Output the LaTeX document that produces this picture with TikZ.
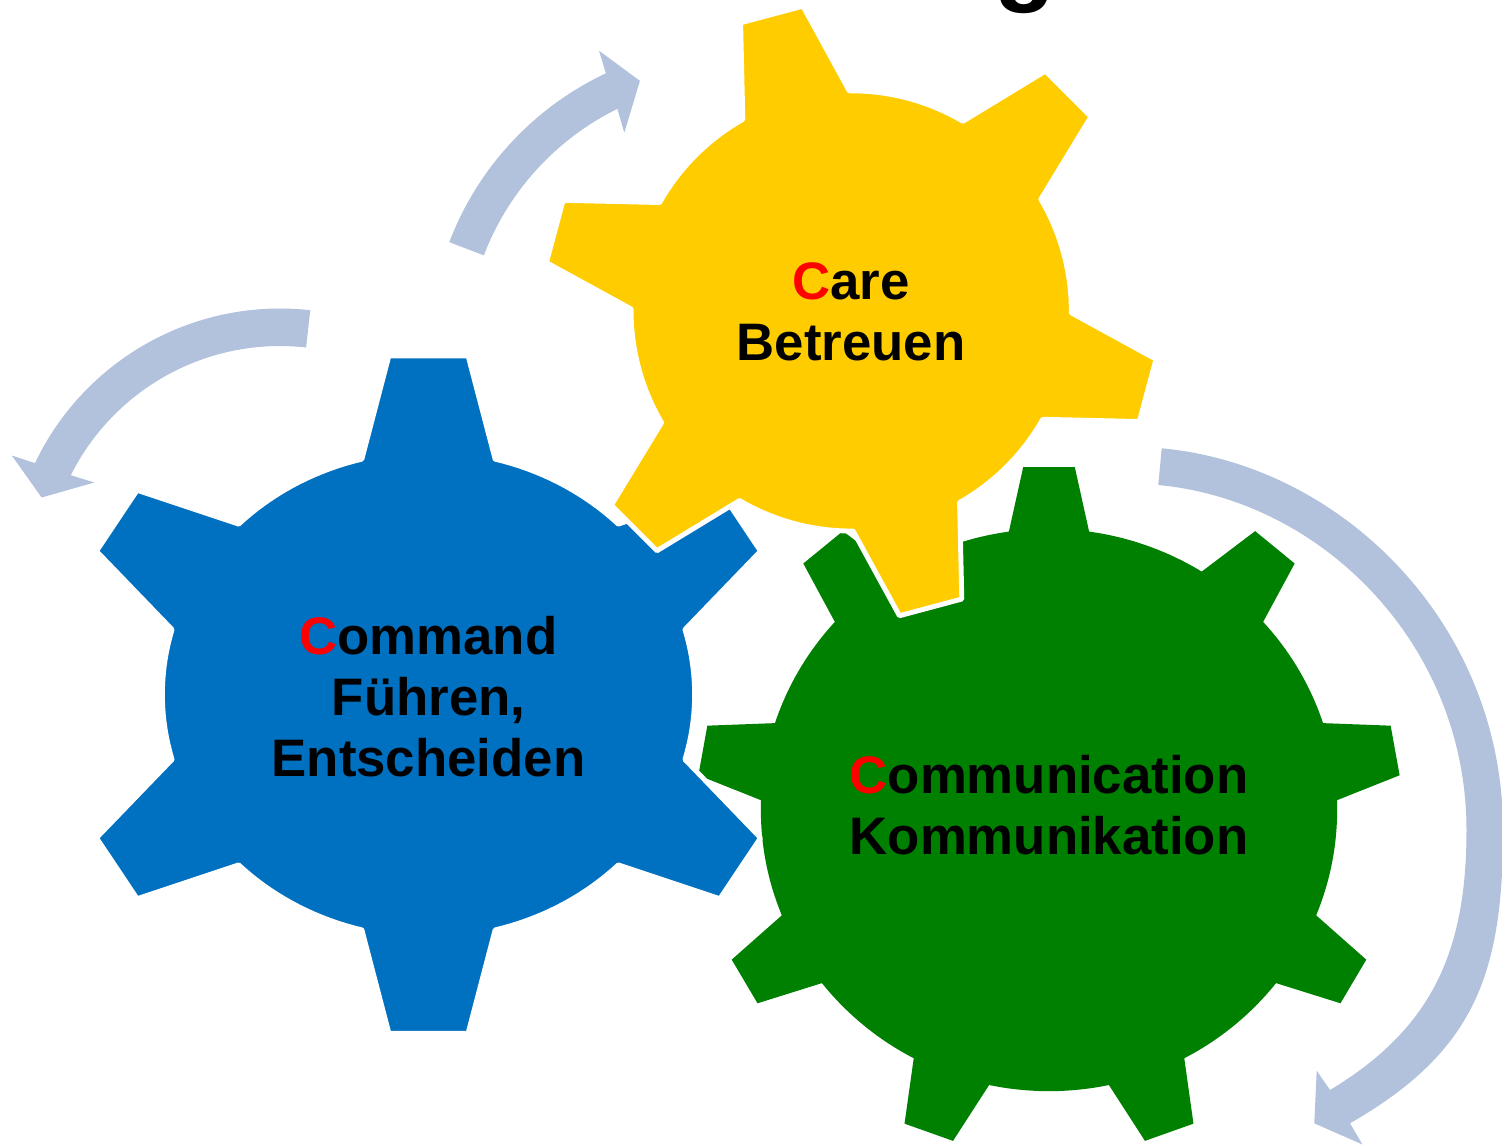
\documentclass[tikz,border=0pt]{standalone}
\usepackage{fontspec}
\setmainfont{Liberation Sans}
\definecolor{cogblue}{RGB}{0,112,192}
\definecolor{cogyellow}{RGB}{255,204,0}
\definecolor{coggreen}{RGB}{0,128,0}
\definecolor{flowblue}{RGB}{178,193,220}

% Gear outline in its own unit frame (body radius 1).
% #1 style, #2 half-angle at the tooth root, #3 half-angle at the tooth tip,
% #4 root angle of the first tooth,
% #5 list of teeth: root angle / tip angle / tip radius / root angle of the next tooth
\newcommand{\cogshape}[5]{%
  \fill[#1] ({#4-#2}:1)
    \foreach \bc/\tc/\tr/\nb [evaluate=\bc as \lo using {\bc+#2},
                              evaluate=\nb as \hi using {\nb-#2}] in {#5}
    { -- ({\bc-#2}:1) -- ({\tc-#3}:\tr) -- ({\tc+#3}:\tr) -- (\lo:1)
      -- plot[domain=\lo:\hi, samples=18, variable=\t] (\t:1) }
    -- cycle;}

\begin{document}
\begin{tikzpicture}[x=0.01cm, y=-0.01cm,
  every node/.style={inner sep=0pt, outer sep=0pt},
  cogtext/.style={align=center, text=black,
    font=\bfseries\fontsize{15}{17.36}\selectfont},
  flow/.style={fill=flowblue},
  rim/.style={draw=white, line width=1.4pt, line join=round}]

\useasboundingbox (0,0) rectangle (1502,1144);
\fill[white] (0,0) rectangle (1502,1144);
\clip (0,0) rectangle (1502,1144);

% tail of the heading above
\node[font=\bfseries\fontsize{28.5}{30}\selectfont, anchor=base west] (headg) at (994,-8) {g};

% curved arrow, upper left, turning clockwise
\begin{scope}[shift={(737,352)}, y={(0,0.01cm)}]
  \fill[flow] (159.1:308) arc[start angle=159.1, end angle=115.2, radius=308]
    -- (114.6:331.4) -- (109.7:288) -- (117.2:246.6) -- (116.2:271)
    arc[start angle=116.2, end angle=159.1, radius=271] -- cycle;
\end{scope}

% curved arrow, left, turning anticlockwise
\begin{scope}[shift={(280,580)}, y={(0,0.01cm)}]
  \fill[flow] (83.6:271.5) arc[start angle=83.6, end angle=154.5, radius=271.5]
    -- (155.1:295.7) -- (160.9:252.2) -- (152.3:209.8) -- (153.4:234)
    arc[start angle=153.4, end angle=83.6, radius=234] -- cycle;
\end{scope}

% large curved arrow on the right
\fill[flow] (1161.7,448.3)
    .. controls (1343,465) and (1503,625) .. (1503,830)
    .. controls (1503,975) and (1474,1052) .. (1350,1123.3)
  -- (1362.5,1144.5) -- (1314.3,1123.3) -- (1316.7,1070.7) -- (1330,1090)
    .. controls (1433,1028.2) and (1466.5,950) .. (1466.5,830)
    .. controls (1466.5,645) and (1322.6,500.2) .. (1158.3,485)
  -- cycle;

% green gear, nine teeth
\begin{scope}[shift={(1049,810)}, x={(2.88cm,0)}, y={(0,2.81cm)}]
  \cogshape{fill=coggreen}{8}{4.2}{10}{10/10/1.223/50, 50/50/1.223/90,
    90/90/1.223/130, 130/130/1.223/170, 170/170/1.223/210,
    210/210/1.223/250, 250/250/1.223/290, 290/290/1.223/330,
    330/330/1.223/370}
\end{scope}

% blue gear, six teeth
\begin{scope}[shift={(428.5,694.5)}, x={(2.66cm,0)}, y={(0,2.43cm)}]
  \cogshape{fill=cogblue, rim}{14.5}{6.1}{30}{30/31.4/1.38/90,
    90/90/1.401/150, 150/148.6/1.38/210, 210/211.4/1.38/270,
    270/270/1.401/330, 330/328.6/1.38/390}
\end{scope}

% yellow gear, six teeth
\begin{scope}[shift={(851.2,310.9)}, x={(2.2cm,0)}, y={(0,2.2cm)}]
  \cogshape{fill=cogyellow, rim}{14.5}{6.0}{45}{45/45/1.402/105,
    105/105/1.402/165, 165/165/1.402/225, 225/225/1.402/285,
    285/285/1.402/345, 345/345/1.402/405}
\end{scope}

\node[cogtext] (command) at (428.5,696.5)
  {\textcolor{red}{C}ommand\\Führen,\\Entscheiden};
\node[cogtext] (care) at (851,311.5)
  {\textcolor{red}{C}are\\Betreuen};
\node[cogtext] (communication) at (1049,805)
  {\textcolor{red}{C}ommunication\\Kommunikation};

\end{tikzpicture}
\end{document}
